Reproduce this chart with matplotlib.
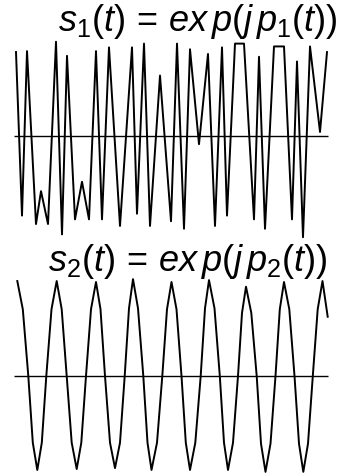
import matplotlib.pyplot as plt

plt.rcParams['mathtext.fontset'] = 'custom'
plt.rcParams['mathtext.it'] = 'Liberation Sans:italic'
plt.rcParams['mathtext.rm'] = 'Liberation Sans'

# s1: chirp-like phase signal, turning points (time, amplitude)
t1 = [16, 22, 27, 36, 41, 48, 56, 62, 67, 75, 82, 89, 96, 102, 109, 120,
      132, 137, 144, 150, 160, 171, 177, 184, 190, 199, 208, 215, 222, 227,
      235, 244, 254, 259, 265, 274, 284, 292, 297, 303, 310, 320, 327]
s1 = [0.89, -0.85, 0.90, -0.94, -0.59, -0.94, 1.00, -1.05, 0.85, -0.89,
      -0.49, -0.89, 0.90, -0.89, 0.94, -0.96, 0.94, -0.83, 0.98, -0.96,
      0.64, -0.91, 0.98, -0.99, 0.92, -0.09, 0.87, -0.96, 0.94, -0.85,
      0.98, 0.98, -0.89, 0.84, -0.99, 0.95, 0.95, -0.89, 0.79, -1.08,
      0.95, 0.04, 0.89]

# s2: constant-frequency signal
t2 = [17.3, 22.8, 28.3, 32.8, 37.3, 41.8, 46.3, 51.5, 56.7, 61.7, 66.7,
      71.7, 76.7, 81.3, 86, 91, 96, 100.5, 105, 110, 115, 120, 124.7, 129,
      133, 138, 143.3, 147.5, 151.5, 157, 162.3, 167, 171.5, 176.5, 181.5,
      185.8, 190, 195.3, 200.7, 205, 209, 214.5, 219.8, 224, 228, 233, 238,
      242, 246, 251.3, 256.7, 261, 265.5, 270.5, 275.5, 279.8, 284, 289.3,
      294.5, 299, 303.3, 308, 312.8, 317.7, 322.5, 327.7]
s2 = [1.01, 0.71, 0, -0.71, -1.00, -0.71, 0, 0.71, 1.01, 0.71, 0,
      -0.71, -0.99, -0.71, 0, 0.71, 1.00, 0.71, 0, -0.71, -0.98, -0.71, 0, 0.72,
      1.03, 0.72, 0, -0.71, -1.00, -0.71, 0, 0.71, 1.00, 0.71, 0,
      -0.71, -1.00, -0.71, 0, 0.72, 1.02, 0.72, 0, -0.71, -1.00, -0.71, 0,
      0.67, 0.95, 0.67, 0, -0.72, -1.02, -0.72, 0, 0.71, 1.00, 0.71,
      0, -0.72, -1.02, -0.72, 0, 0.71, 1.01, 0.63]

titles = [r'$s_1(t)\,=\,ex\,p(j\,p_1(t))$', r'$s_2(t)\,=\,ex\,p(j\,p_2(t))$']

W, H = 348, 477
fig = plt.figure(figsize=(W / 100, H / 100), dpi=100)

# top panel: rows 40..240, bottom panel: rows 270..477
ax1 = fig.add_axes([0, 1 - 240 / H, 1, 200 / H])
ax1.plot(t1, s1, color='black', lw=1.4)
ax1.hlines(0, 14, 328, color='black', lw=1.0)
ax1.set_xlim(0, W)
ax1.set_ylim(-1.099, 1.029)
ax1.axis('off')

ax2 = fig.add_axes([0, 0, 1, 207 / H])
ax2.plot(t2, s2, color='black', lw=1.4)
ax2.hlines(0, 14, 328, color='black', lw=1.0)
ax2.set_xlim(0, W)
ax2.set_ylim(-1.064, 1.138)
ax2.axis('off')

fig.text(198 / W, 1 - 21.5 / H, titles[0], ha='center', va='center', fontsize=26)
fig.text(187.5 / W, 1 - 261.5 / H, titles[1], ha='center', va='center', fontsize=26)

fig.savefig('out.png', dpi=100)
